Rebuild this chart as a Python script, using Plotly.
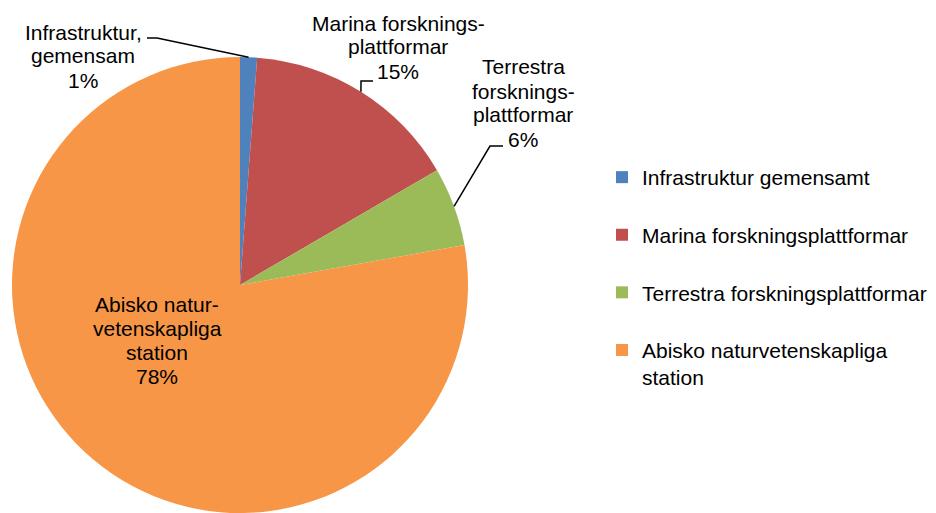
import math
import plotly.graph_objects as go

# ---- data ----
legend_labels = ["Infrastruktur gemensamt", "Marina forskningsplattformar",
                 "Terrestra forskningsplattformar", "Abisko naturvetenskapliga<br>station"]
slice_labels = ["Infrastruktur,\ngemensam", "Marina forsknings-\nplattformar",
                "Terrestra\nforsknings-\nplattformar", "Abisko natur-\nvetenskapliga\nstation"]
values = [1.2, 15.4, 5.6, 77.8]
colors = ["#4F81BD", "#C0504D", "#9BBB59", "#F79646"]

# page has an 8px body margin; lay out in window pixels and shift
OFF = 8
W, H = 936 - OFF, 513 - OFF
FONT = "Liberation Sans, Arial, sans-serif"
FS = 21

# pie geometry (window pixels)
cx, cy, R = 240, 285, 228

def px2paper(x, y):
    return (x - OFF) / W, 1 - (y - OFF) / H

# pad single-line legend entries to two lines for spacing
legend_text = [l if "<br>" in l else l + "<br> " for l in legend_labels]

x0, y0 = px2paper(cx - R, cy + R)
x1, y1 = px2paper(cx + R, cy - R)

fig = go.Figure(go.Pie(
    labels=legend_text,
    values=values,
    sort=False,
    direction="clockwise",
    rotation=0,
    marker=dict(colors=colors, line=dict(width=0)),
    textinfo="none",
    hoverinfo="label+percent",
    domain=dict(x=[x0, x1], y=[y0, y1]),
))

total = sum(values)
pcts = [round(v / total * 100) for v in values]

# label placement (window pixels) and leader elbows
label_pos = [(83, 56), (398, 47), (523, 103), (157, 340)]
leaders = [[(157, 38), (147, 38)], [(361, 81), (373, 81)], [(490, 146), (503, 146)], None]
LINE_H = 24

annotations = []
shapes = []
cum = 0
for i, v in enumerate(values):
    theta = 2 * math.pi * (cum + v / 2) / total
    cum += v
    ex, ey = cx + R * math.sin(theta), cy - R * math.cos(theta)
    lines = slice_labels[i].split("\n") + [f"{pcts[i]}%"]
    lx, ly = label_pos[i]
    n = len(lines)
    for k, t in enumerate(lines):
        yk = ly + (k - (n - 1) / 2) * LINE_H
        xp, yp = px2paper(lx, yk)
        annotations.append(dict(x=xp, y=yp, xref="paper", yref="paper", text=t,
                                showarrow=False, xanchor="center", yanchor="middle",
                                font=dict(family=FONT, size=FS, color="#000000")))
    if leaders[i]:
        pts = [(ex, ey)] + leaders[i]
        pp = [px2paper(x, y) for x, y in pts]
        path = "M " + " L ".join(f"{a:.5f},{b:.5f}" for a, b in pp)
        shapes.append(dict(type="path", xref="paper", yref="paper", path=path,
                           line=dict(color="#000000", width=1.5)))

lgx, lgy = px2paper(602, 157)
fig.update_layout(
    width=W, height=H,
    margin=dict(l=0, r=0, t=0, b=0),
    paper_bgcolor="white",
    plot_bgcolor="white",
    font=dict(family=FONT, size=FS, color="#000000"),
    showlegend=True,
    legend=dict(x=lgx, y=lgy, xanchor="left", yanchor="top",
                valign="top", font=dict(family=FONT, size=FS, color="#000000"),
                bgcolor="rgba(0,0,0,0)", traceorder="normal"),
    annotations=annotations,
    shapes=shapes,
)

fig.write_html("out.html")
